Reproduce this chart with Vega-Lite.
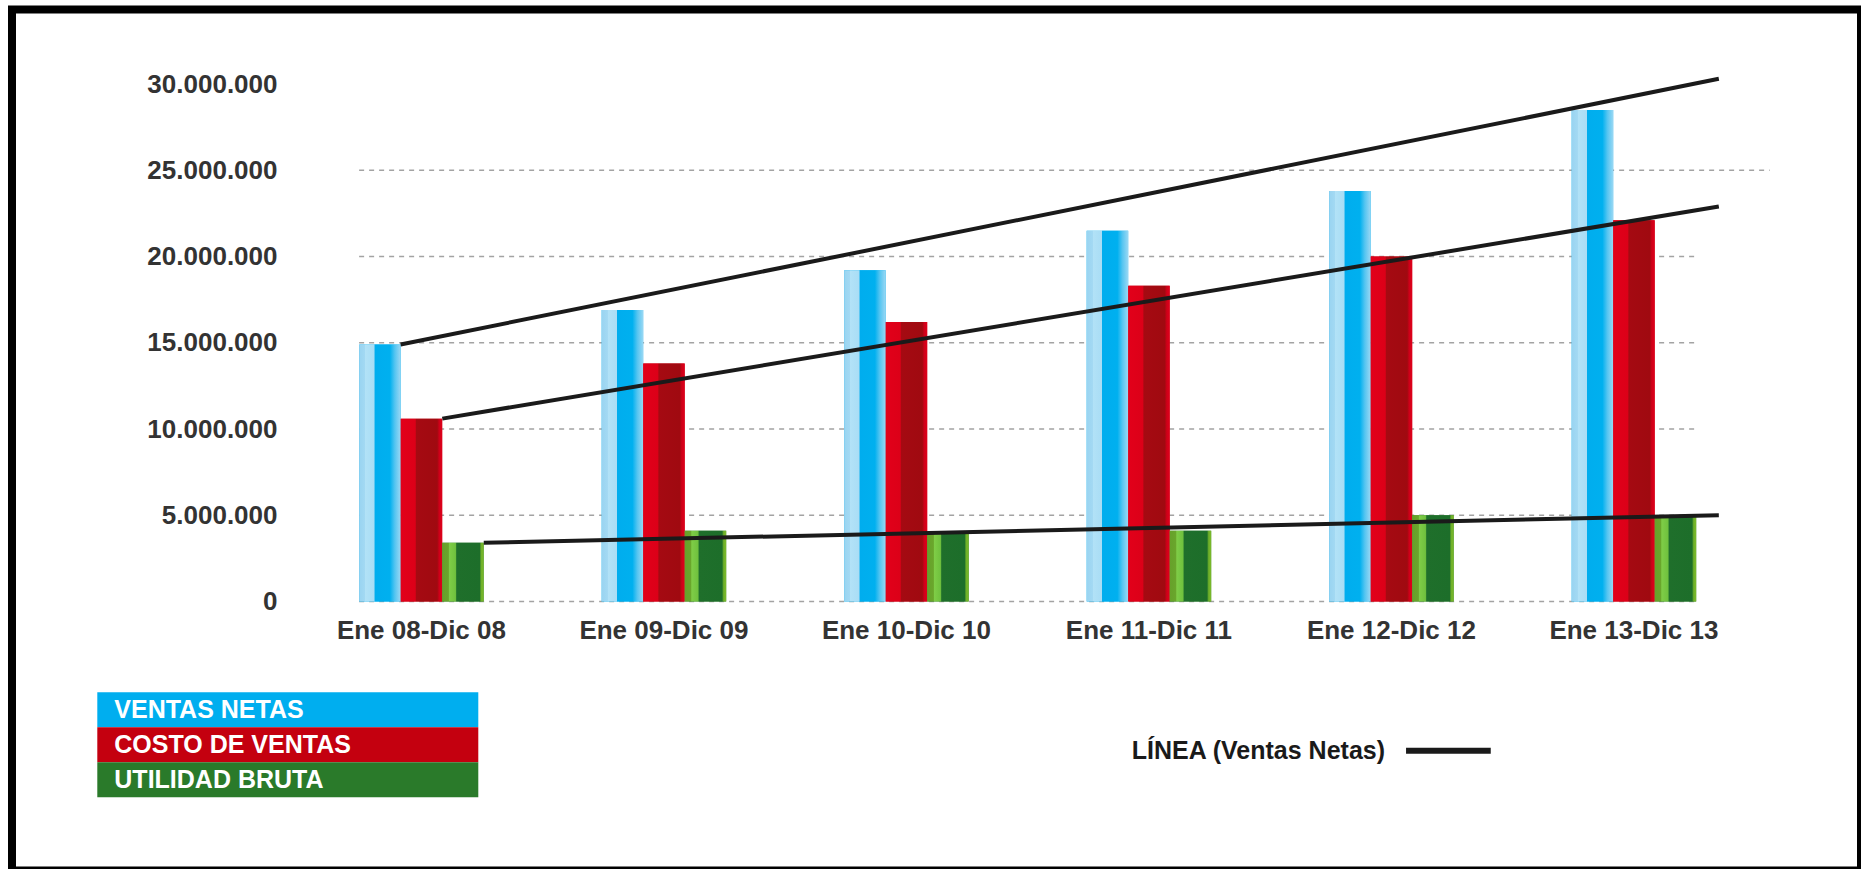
{
  "$schema": "https://vega.github.io/schema/vega-lite/v6.json",
  "width": 1849,
  "height": 861,
  "autosize": {"type": "none"},
  "padding": {"left": 12, "top": 9.5, "right": 0, "bottom": 0},
  "background": "white",
  "config": {
    "font": "Liberation Sans",
    "view": {"stroke": "#000000", "strokeWidth": 8},
    "locale": {"number": {"decimal": ",", "thousands": ".", "grouping": [3], "currency": ["", " €"]}}
  },
  "datasets": {
    "barras": [
      {"periodo": "Ene 08-Dic 08", "serie": "Ventas Netas", "valor": 14900000},
      {"periodo": "Ene 08-Dic 08", "serie": "Costo de Ventas", "valor": 10600000},
      {"periodo": "Ene 08-Dic 08", "serie": "Utilidad Bruta", "valor": 3400000},
      {"periodo": "Ene 09-Dic 09", "serie": "Ventas Netas", "valor": 16900000},
      {"periodo": "Ene 09-Dic 09", "serie": "Costo de Ventas", "valor": 13800000},
      {"periodo": "Ene 09-Dic 09", "serie": "Utilidad Bruta", "valor": 4100000},
      {"periodo": "Ene 10-Dic 10", "serie": "Ventas Netas", "valor": 19200000},
      {"periodo": "Ene 10-Dic 10", "serie": "Costo de Ventas", "valor": 16200000},
      {"periodo": "Ene 10-Dic 10", "serie": "Utilidad Bruta", "valor": 4000000},
      {"periodo": "Ene 11-Dic 11", "serie": "Ventas Netas", "valor": 21500000},
      {"periodo": "Ene 11-Dic 11", "serie": "Costo de Ventas", "valor": 18300000},
      {"periodo": "Ene 11-Dic 11", "serie": "Utilidad Bruta", "valor": 4100000},
      {"periodo": "Ene 12-Dic 12", "serie": "Ventas Netas", "valor": 23800000},
      {"periodo": "Ene 12-Dic 12", "serie": "Costo de Ventas", "valor": 20000000},
      {"periodo": "Ene 12-Dic 12", "serie": "Utilidad Bruta", "valor": 5000000},
      {"periodo": "Ene 13-Dic 13", "serie": "Ventas Netas", "valor": 28500000},
      {"periodo": "Ene 13-Dic 13", "serie": "Costo de Ventas", "valor": 22100000},
      {"periodo": "Ene 13-Dic 13", "serie": "Utilidad Bruta", "valor": 5000000}
    ],
    "tendencias": [
      {"serie": "Ventas Netas", "tipo": "LÍNEA (Ventas Netas)", "anio": 2007.914, "valor": 14900000},
      {"serie": "Ventas Netas", "tipo": "LÍNEA (Ventas Netas)", "anio": 2013.35, "valor": 30300000},
      {"serie": "Costo de Ventas", "tipo": "LÍNEA (Ventas Netas)", "anio": 2008.086, "valor": 10600000},
      {"serie": "Costo de Ventas", "tipo": "LÍNEA (Ventas Netas)", "anio": 2013.35, "valor": 22900000},
      {"serie": "Utilidad Bruta", "tipo": "LÍNEA (Ventas Netas)", "anio": 2008.257, "valor": 3400000},
      {"serie": "Utilidad Bruta", "tipo": "LÍNEA (Ventas Netas)", "anio": 2013.35, "valor": 5000000}
    ],
    "rejilla": [
      {"valor": 0}, {"valor": 5000000}, {"valor": 10000000}, {"valor": 15000000}, {"valor": 20000000}
    ]
  },
  "layer": [
    {
      "data": {"name": "rejilla"},
      "mark": {"type": "rule", "stroke": "#a3a3a3", "strokeWidth": 1.5, "strokeDash": [5, 5]},
      "encoding": {
        "x": {"datum": 2007.743, "type": "quantitative", "scale": {"domain": [2006.311546, 2013.936289], "nice": false, "zero": false}, "axis": null},
        "x2": {"datum": 2013.26},
        "y": {"field": "valor", "type": "quantitative", "scale": {"domain": [-15594203, 34318841], "nice": false, "zero": false}}
      }
    },
    {
      "data": {"name": "rejilla"},
      "transform": [{"filter": "datum.valor === 0"}],
      "mark": {"type": "rule", "stroke": "#a3a3a3", "strokeWidth": 1.5, "strokeDash": [5, 5]},
      "encoding": {
        "x": {"datum": 2007.743, "type": "quantitative", "scale": {"domain": [2006.311546, 2013.936289], "nice": false, "zero": false}, "axis": null},
        "x2": {"datum": 2013.56},
        "y": {"datum": 25000000, "type": "quantitative", "scale": {"domain": [-15594203, 34318841], "nice": false, "zero": false}}
      }
    },
    {
      "data": {"name": "barras"},
      "encoding": {
        "x": {
          "field": "periodo", "type": "nominal", "sort": null,
          "scale": {"paddingInner": 0.37526, "paddingOuter": 1, "align": 0.688, "round": false},
          "axis": {
            "title": null, "domain": false, "ticks": false, "tickSize": 0, "labelPadding": 0,
            "offset": -240, "labelAngle": 0, "labelBaseline": "middle", "grid": false,
            "labelFont": "Liberation Sans", "labelFontSize": 26, "labelFontWeight": "bold", "labelColor": "#333333"
          }
        },
        "xOffset": {"field": "serie", "type": "nominal", "scale": {"domain": ["Ventas Netas", "Costo de Ventas", "Utilidad Bruta"], "paddingInner": 0, "paddingOuter": 0.3253}},
        "y": {
          "field": "valor", "type": "quantitative",
          "scale": {"domain": [-15594203, 34318841], "nice": false, "zero": false},
          "axis": {
            "values": [0, 5000000, 10000000, 15000000, 20000000, 25000000, 30000000],
            "format": ",d",
            "title": null, "grid": false, "domain": false, "ticks": false, "tickSize": 0, "labelPadding": 0,
            "offset": -265, "labelFlush": false, "labelOverlap": false, "labelAlign": "right", "labelBaseline": "middle",
            "labelFont": "Liberation Sans", "labelFontSize": 26, "labelFontWeight": "bold", "labelColor": "#333333"
          }
        }
      },
      "layer": [
        {
          "mark": {"type": "bar", "strokeWidth": 0},
          "encoding": {
            "color": {
              "field": "serie", "type": "nominal",
              "scale": {"domain": ["Ventas Netas", "Costo de Ventas", "Utilidad Bruta"], "range": ["#00aeef", "#c4000f", "#2a7a2a"]},
              "legend": {
                "orient": "none", "legendX": 85.3, "legendY": 682.8,
                "title": null, "direction": "vertical", "padding": 0, "rowPadding": 0,
                "symbolType": "M-1,-1H20.771V1H-1Z", "symbolSize": 1225,
                "symbolStrokeWidth": 0, "symbolOpacity": 1,
                "labelExpr": "upper(datum.label)", "labelColor": "#ffffff",
                "labelFont": "Liberation Sans", "labelFontSize": 25, "labelFontWeight": "bold",
                "labelOffset": -18, "labelLimit": 500, "labelBaseline": "middle"
              }
            }
          }
        },
        {
          "transform": [{"filter": "datum.serie === 'Ventas Netas'"}],
          "mark": {"type": "bar", "fill": {"gradient": "linear", "x1": 0, "y1": 0, "x2": 1, "y2": 0, "stops": [
            {"offset": 0, "color": "#99d4f1"}, {"offset": 0.14, "color": "#a3d9f3"}, {"offset": 0.15, "color": "#b2e2f7"},
            {"offset": 0.36, "color": "#a9ddf5"}, {"offset": 0.38, "color": "#00adee"}, {"offset": 0.74, "color": "#00b0ef"},
            {"offset": 0.86, "color": "#55c5f1"}, {"offset": 1, "color": "#9ad8f4"}]}}
        },
        {
          "transform": [{"filter": "datum.serie === 'Costo de Ventas'"}],
          "mark": {"type": "bar", "fill": {"gradient": "linear", "x1": 0, "y1": 0, "x2": 1, "y2": 0, "stops": [
            {"offset": 0, "color": "#e2001a"}, {"offset": 0.35, "color": "#dc0018"}, {"offset": 0.38, "color": "#a50a12"},
            {"offset": 0.88, "color": "#a00a10"}, {"offset": 0.93, "color": "#cf0019"}, {"offset": 1, "color": "#e0001a"}]}}
        },
        {
          "transform": [{"filter": "datum.serie === 'Utilidad Bruta'"}],
          "mark": {"type": "bar", "fill": {"gradient": "linear", "x1": 0, "y1": 0, "x2": 1, "y2": 0, "stops": [
            {"offset": 0, "color": "#66a12a"}, {"offset": 0.15, "color": "#6aa62c"}, {"offset": 0.17, "color": "#7fcd47"},
            {"offset": 0.32, "color": "#70c13e"}, {"offset": 0.35, "color": "#1f6f2b"}, {"offset": 0.9, "color": "#1d6e2a"},
            {"offset": 0.94, "color": "#6fb02a"}, {"offset": 1, "color": "#7ab929"}]}}
        }
      ]
    },
    {
      "data": {"name": "tendencias"},
      "mark": {"type": "line", "strokeWidth": 4, "strokeCap": "butt"},
      "encoding": {
        "x": {"field": "anio", "type": "quantitative", "scale": {"domain": [2006.311546, 2013.936289], "nice": false, "zero": false}, "axis": null},
        "y": {"field": "valor", "type": "quantitative", "scale": {"domain": [-15594203, 34318841], "nice": false, "zero": false}},
        "detail": {"field": "serie", "type": "nominal"},
        "stroke": {
          "field": "tipo", "type": "nominal",
          "scale": {"domain": ["LÍNEA (Ventas Netas)"], "range": ["#1a1a1a"]},
          "legend": {
            "orient": "none", "legendX": 1119.7, "legendY": 695.7,
            "title": null, "padding": 0,
            "symbolType": "stroke", "symbolSize": 7174, "symbolStrokeWidth": 6,
            "symbolOffset": 271.2, "labelOffset": -362.2, "labelAlign": "left", "labelBaseline": "middle",
            "labelFont": "Liberation Sans", "labelFontSize": 25, "labelFontWeight": "bold", "labelColor": "#1a1a1a",
            "labelLimit": 500
          }
        }
      }
    }
  ],
  "resolve": {
    "scale": {"x": "independent", "stroke": "independent"},
    "legend": {"stroke": "independent"}
  }
}
